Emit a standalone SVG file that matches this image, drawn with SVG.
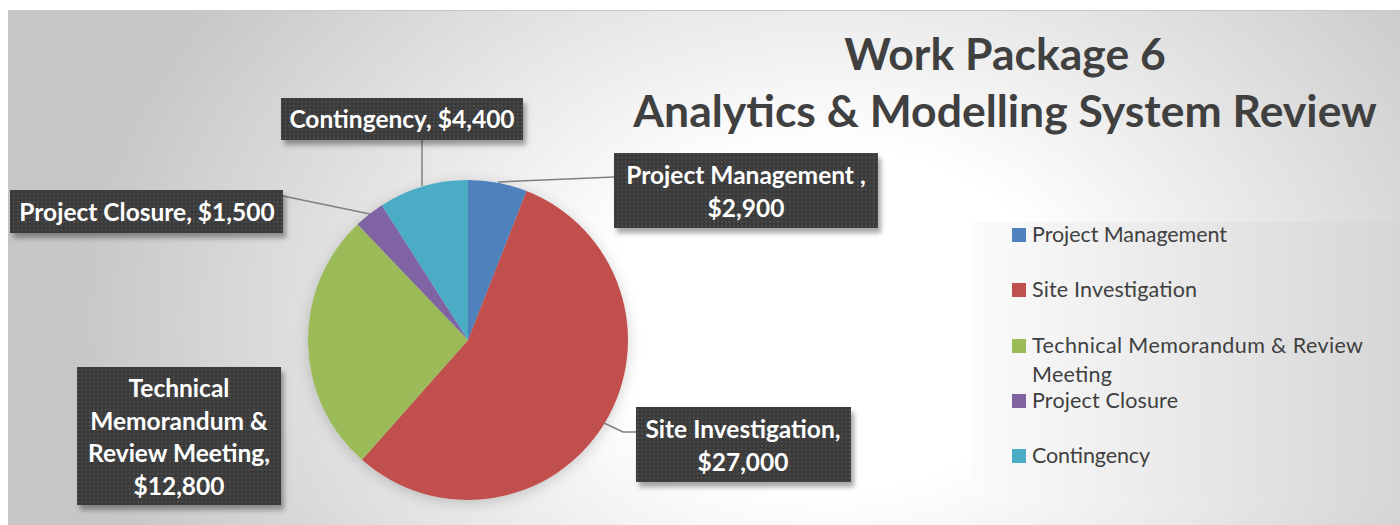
<svg xmlns="http://www.w3.org/2000/svg" width="1400" height="525" viewBox="0 0 1400 525">
<defs>
<radialGradient id="bg" gradientUnits="userSpaceOnUse" cx="830" cy="320" r="760" gradientTransform="translate(830 320) scale(1 0.75) translate(-830 -320)">
<stop offset="0" stop-color="#ffffff"/>
<stop offset="0.3" stop-color="#ffffff"/>
<stop offset="1" stop-color="#c6c6c6"/>
</radialGradient>
<linearGradient id="lg" x1="0" y1="0" x2="1" y2="0">
<stop offset="0" stop-color="#fbfbfb"/>
<stop offset="1" stop-color="#d6d6d6"/>
</linearGradient>
<pattern id="dots" width="4" height="4" patternUnits="userSpaceOnUse">
<rect width="4" height="4" fill="#3b3b3b"/>
<rect x="1" y="1" width="1.5" height="1.5" fill="#555555"/>
</pattern>
<filter id="boxsh" x="-10%" y="-20%" width="130%" height="160%">
<feDropShadow dx="3" dy="5" stdDeviation="2.5" flood-color="#000" flood-opacity="0.35"/>
</filter>
<filter id="piesh" x="-20%" y="-20%" width="140%" height="140%">
<feDropShadow dx="0" dy="3" stdDeviation="7" flood-color="#000" flood-opacity="0.18"/>
</filter>
<style>
.lbl{fill:url(#dots);filter:url(#boxsh)}
.lt{font-family:Lato,"Liberation Sans",sans-serif;font-weight:bold;font-size:24.5px;fill:#ffffff;text-anchor:middle}
.leg{font-family:Lato,"Liberation Sans",sans-serif;font-size:21.5px;fill:#404040}
.title{font-family:Lato,"Liberation Sans",sans-serif;font-weight:bold;font-size:44.5px;fill:#404040;text-anchor:middle}
.ld{fill:none;stroke:#808080;stroke-width:1.5}
</style>
</defs>
<rect width="1400" height="525" fill="#ffffff"/>
<rect x="8" y="10" width="1392" height="515" fill="url(#bg)"/>
<line x1="8" y1="10.5" x2="1400" y2="10.5" stroke="#c8c8c8" stroke-width="1"/>

<g id="title">
<text class="title" x="1005" y="70">Work Package 6</text>
<text class="title" x="1005" y="127">Analytics &amp; Modelling System Review</text>
</g>

<g id="pie" filter="url(#piesh)">
<path id="slice-pm" d="M468,340 L468,180 A160,160 0 0 1 526.59,191.11 Z" fill="#4f81bd"/>
<path id="slice-si" d="M468,340 L526.59,191.11 A160,160 0 1 1 362.02,459.87 Z" fill="#c0504d"/>
<path id="slice-tm" d="M468,340 L362.02,459.87 A160,160 0 0 1 357.47,224.31 Z" fill="#9bbb59"/>
<path id="slice-pc" d="M468,340 L357.47,224.31 A160,160 0 0 1 381.81,205.20 Z" fill="#8064a2"/>
<path id="slice-cont" d="M468,340 L381.81,205.20 A160,160 0 0 1 468,180 Z" fill="#4bacc6"/>
</g>

<g id="connectors">
<polyline class="ld" points="422,140 422,186"/>
<polyline class="ld" points="498,182 614,177"/>
<polyline class="ld" points="283,196 370,214"/>
<polyline class="ld" points="604,423 623,432 636,432"/>
</g>

<g id="label-contingency">
<rect class="lbl" x="281" y="98" width="242" height="42"/>
<text class="lt" x="402" y="128">Contingency, $4,400</text>
</g>
<g id="label-pm">
<rect class="lbl" x="614" y="153" width="264" height="75"/>
<text class="lt" x="746" y="184">Project Management ,</text>
<text class="lt" x="746" y="217">$2,900</text>
</g>
<g id="label-pc">
<rect class="lbl" x="10" y="190" width="273" height="43"/>
<text class="lt" x="147" y="221">Project Closure, $1,500</text>
</g>
<g id="label-tm">
<rect class="lbl" x="77" y="367" width="204" height="138"/>
<text class="lt" x="179" y="397">Technical</text>
<text class="lt" x="179" y="430">Memorandum &amp;</text>
<text class="lt" x="179" y="462">Review Meeting,</text>
<text class="lt" x="179" y="495">$12,800</text>
</g>
<g id="label-si">
<rect class="lbl" x="636" y="407" width="215" height="75"/>
<text class="lt" x="743" y="438">Site Investigation,</text>
<text class="lt" x="743" y="471">$27,000</text>
</g>

<g id="legend">
<rect x="972" y="222" width="428" height="277" fill="url(#lg)"/>
<rect x="1012" y="228" width="14" height="14" fill="#4f81bd"/>
<text class="leg" x="1032" y="242" textLength="195">Project Management</text>
<rect x="1012" y="283" width="14" height="14" fill="#c0504d"/>
<text class="leg" x="1032" y="297" textLength="165">Site Investigation</text>
<rect x="1012" y="339" width="14" height="14" fill="#9bbb59"/>
<text class="leg" x="1032" y="353" textLength="331">Technical Memorandum &amp; Review</text>
<text class="leg" x="1032" y="382" textLength="80">Meeting</text>
<rect x="1012" y="394" width="14" height="14" fill="#8064a2"/>
<text class="leg" x="1032" y="408" textLength="146">Project Closure</text>
<rect x="1012" y="449" width="14" height="14" fill="#4bacc6"/>
<text class="leg" x="1032" y="463" textLength="118">Contingency</text>
</g>
</svg>
